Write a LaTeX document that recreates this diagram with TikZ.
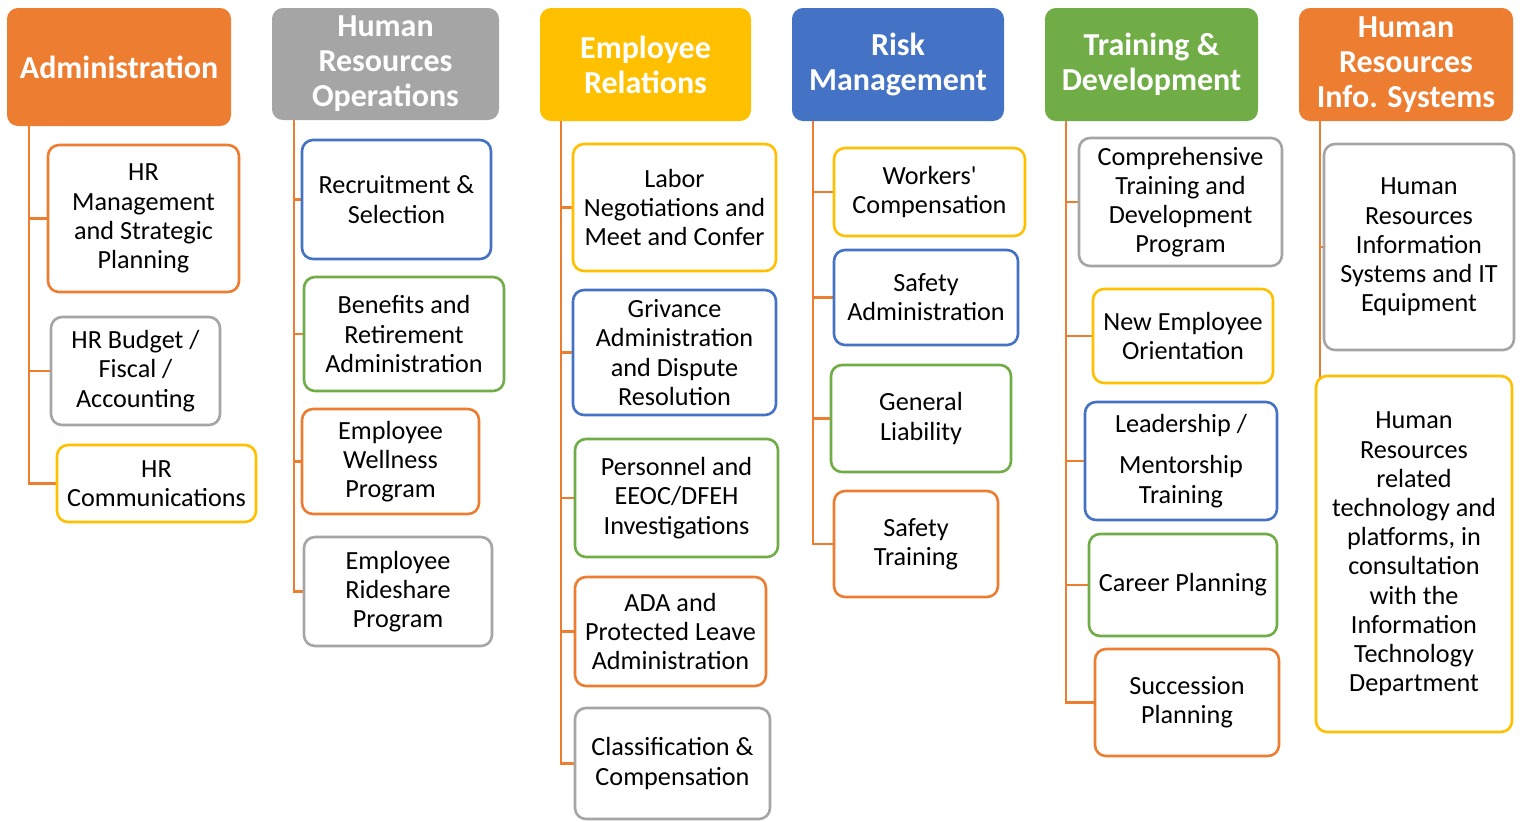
\documentclass[tikz,border=0pt]{standalone}
\usepackage{fontspec}
\setmainfont{Carlito}
\usetikzlibrary{backgrounds}

\definecolor{hrorange}{HTML}{ED7D31}
\definecolor{hrgray}{HTML}{A5A5A5}
\definecolor{hryellow}{HTML}{FFC000}
\definecolor{hrblue}{HTML}{4472C4}
\definecolor{hrgreen}{HTML}{70AD47}

\tikzset{
  head/.style={draw=#1, fill=#1, line width=1pt, rounded corners=5pt, text=white,
    font=\fontsize{16}{17.5}\selectfont\bfseries, align=center, inner sep=0pt},
  item/.style={draw=#1, fill=white, line width=1.3pt, rounded corners=5.5pt,
    font=\fontsize{13.1}{14.6}\selectfont, align=center, inner sep=0pt},
  sz/.style 2 args={minimum width=#1, minimum height=#2},
  conn/.style={draw=hrorange, line width=1.4pt}
}

\begin{document}
\begin{tikzpicture}[x=0.5pt,y=0.5pt,yscale=-1,xscale=1]
\useasboundingbox (0,0) rectangle (1522,821);

% Administration
\node (hA) [head=hrorange, sz={111pt}{58pt}] at (119,67) {Administration};
\node (a1) [item=hrorange, sz={95.5pt}{73.5pt}] at (143.5,218.5) {HR\\Management\\and Strategic\\Planning};
\node (a2) [item=hrgray, sz={84.5pt}{54pt}] at (135.5,371) {HR Budget /\\Fiscal /\\Accounting};
\node (a3) [item=hryellow, sz={99.5pt}{38.5pt}] at (156.5,483.5) {HR\\Communications};
\coordinate (tA) at (29,125);

% Human Resources Operations
\node (hB) [head=hrgray, sz={112.5pt}{55pt}] at (385.5,64) {Human\\Resources\\Operations};
\node (b1) [item=hrblue, sz={94.5pt}{59.5pt}] at (396.5,199.5) {Recruitment \&\\Selection};
\node (b2) [item=hrgreen, sz={100pt}{57pt}] at (404,334) {Benefits and\\Retirement\\Administration};
\node (b3) [item=hrorange, sz={88.5pt}{52.5pt}] at (390.5,461.5) {Employee\\Wellness\\Program};
\node (b4) [item=hrgray, sz={94pt}{54.5pt}] at (398,591.5) {Employee\\Rideshare\\Program};
\coordinate (tB) at (294,119);

% Employee Relations
\node (hC) [head=hryellow, sz={104.5pt}{55.5pt}] at (645.5,64.5) {Employee\\Relations};
\node (c1) [item=hryellow, sz={101.5pt}{63.5pt}] at (674.5,207.5) {Labor\\Negotiations and\\Meet and Confer};
\node (c2) [item=hrblue, sz={101.5pt}{62.5pt}] at (674.5,352.5) {Grivance\\Administration\\and Dispute\\Resolution};
\node (c3) [item=hrgreen, sz={101.5pt}{59pt}] at (676.5,498) {Personnel and\\EEOC/DFEH\\Investigations};
\node (c4) [item=hrorange, sz={95.5pt}{54.5pt}] at (670.5,631.5) {ADA and\\Protected Leave\\Administration};
\node (c5) [item=hrgray, sz={97.5pt}{55.5pt}] at (672.5,763.5) {Classification \&\\Compensation};
\coordinate (tC) at (561,120);

% Risk Management
\node (hD) [head=hrblue, sz={105pt}{55.5pt}] at (898,64.5) {Risk\\Management};
\node (d1) [item=hryellow, sz={95.5pt}{44pt}] at (929.5,192) {Workers\textquotesingle\\Compensation};
\node (d2) [item=hrblue, sz={92pt}{47.5pt}] at (926,297.5) {Safety\\Administration};
\node (d3) [item=hrgreen, sz={90pt}{53.5pt}] at (921,418.5) {General\\Liability};
\node (d4) [item=hrorange, sz={82pt}{53pt}] at (916,544) {Safety\\Training};
\coordinate (tD) at (813,120);

% Training & Development
\node (hE) [head=hrgreen, sz={105.5pt}{55.5pt}] at (1151.5,64.5) {Training \&\\Development};
\node (e1) [item=hrgray, sz={101.5pt}{64pt}] at (1180.5,202) {Comprehensive\\Training and\\Development\\Program};
\node (e2) [item=hryellow, sz={90pt}{47pt}] at (1183,336) {New Employee\\Orientation};
\node (e3) [item=hrblue, sz={96pt}{59pt}] at (1181,461) {Leadership /\\[6pt]Mentorship\\Training};
\node (e4) [item=hrgreen, sz={94pt}{51pt}] at (1183,585) {Career Planning};
\node (e5) [item=hrorange, sz={92pt}{53.5pt}] at (1187,702.5) {Succession\\Planning};
\coordinate (tE) at (1066,120);

% Human Resources Info. Systems
\node (hF) [head=hrorange, sz={106pt}{55.5pt}] at (1406,64.5) {Human\\Resources\\Info. Systems};
\node (f1) [item=hrgray, sz={95pt}{103pt}] at (1419,247) {Human\\Resources\\Information\\Systems and IT\\Equipment};
\node (f2) [item=hryellow, sz={98pt}{178pt}] at (1414,554) {Human\\Resources\\related\\technology and\\platforms, in\\consultation\\with the\\Information\\Technology\\Department};
\coordinate (tF) at (1320,120);

% connectors
\begin{scope}[on background layer]
\foreach \t/\k in {tA/a1,tA/a2,tA/a3,tB/b1,tB/b2,tB/b3,tB/b4,
                   tC/c1,tC/c2,tC/c3,tC/c4,tC/c5,tD/d1,tD/d2,tD/d3,tD/d4,
                   tE/e1,tE/e2,tE/e3,tE/e4,tE/e5,tF/f1,tF/f2}
  \draw [conn] (\t) |- (\k.west);
\end{scope}

\end{tikzpicture}
\end{document}
